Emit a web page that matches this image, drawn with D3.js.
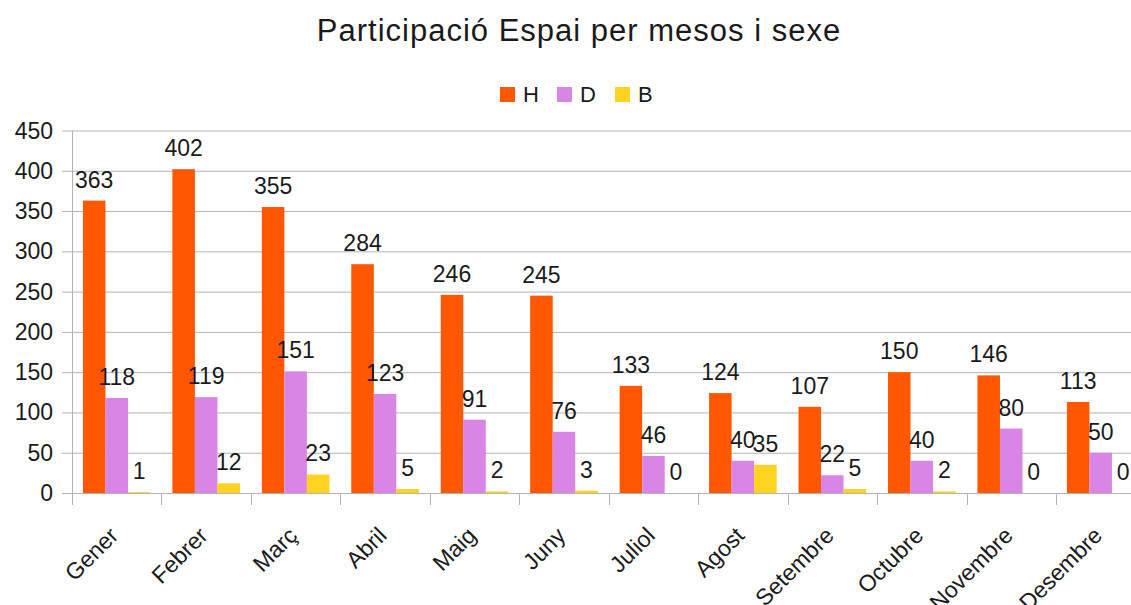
<!DOCTYPE html>
<html lang="ca">
<head>
<meta charset="UTF-8">
<title>Participació Espai per mesos i sexe</title>
<script src="https://d3js.org/d3.v7.min.js"></script>
<style>
    body { margin: 0; background: #fff; font-family: "Liberation Sans", Arial, sans-serif; }
    text { fill: #1a1a1a; }
    .grid line { stroke: #b3b3b3; }
</style>
</head>
<body>
<div id="chart"></div>
<script>
    // dades
    var months = ["Gener", "Febrer", "Març", "Abril", "Maig", "Juny", "Juliol", "Agost", "Setembre", "Octubre", "Novembre", "Desembre"];
    var seriesNames = ["H", "D", "B"];
    var valuesH = [363, 402, 355, 284, 246, 245, 133, 124, 107, 150, 146, 113];
    var valuesD = [118, 119, 151, 123, 91, 76, 46, 40, 22, 40, 80, 50];
    var valuesB = [1, 12, 23, 5, 2, 3, 0, 35, 5, 2, 0, 0];
    var yTicks = [0, 50, 100, 150, 200, 250, 300, 350, 400, 450];
    var colors = ["#ff5800", "#d985e6", "#ffd320"];

    var width = 1131, height = 605;
    var series = [valuesH, valuesD, valuesB];

    var svg = d3.select("#chart").append("svg")
        .attr("width", width)
        .attr("height", height);

    var x = d3.scaleBand().domain(months).range([72, 72 + 12 * 89.45]);
    var xs = d3.scaleBand().domain(seriesNames).range([0, x.bandwidth()]).paddingInner(0).paddingOuter(0.485);
    var y = d3.scaleLinear().domain([0, 450]).range([493, 130.5]);

    // títol
    svg.append("text")
        .attr("x", 579).attr("y", 41)
        .attr("text-anchor", "middle")
        .style("font-size", "31px")
        .style("letter-spacing", "1px")
        .text("Participació Espai per mesos i sexe");

    // llegenda
    var legendX = [500, 557, 615];
    seriesNames.forEach(function(s, i) {
        svg.append("rect")
            .attr("x", legendX[i]).attr("y", 87)
            .attr("width", 15).attr("height", 15)
            .attr("fill", colors[i]);
        svg.append("text")
            .attr("x", legendX[i] + 23).attr("y", 102)
            .style("font-size", "22px")
            .text(s);
    });

    // graella
    svg.append("g").attr("class", "grid")
        .selectAll("line").data(yTicks).enter().append("line")
        .attr("x1", 62).attr("x2", width)
        .attr("y1", function(d) { return y(d) + 0.5; })
        .attr("y2", function(d) { return y(d) + 0.5; });

    // marques eix x
    var bounds = months.map(function(m) { return x(m); }).concat([x.range()[1]]);
    svg.append("g").selectAll("line").data(bounds).enter().append("line")
        .attr("x1", function(d, i) { return Math.round(d) + 0.5; })
        .attr("x2", function(d, i) { return Math.round(d) + 0.5; })
        .attr("y1", function(d, i) { return i === 0 ? y(450) : y(0); })
        .attr("y2", 505)
        .attr("stroke", "#b3b3b3");

    // etiquetes eix y
    svg.append("g").selectAll("text").data(yTicks).enter().append("text")
        .attr("x", 53)
        .attr("y", function(d) { return y(d) + 8; })
        .attr("text-anchor", "end")
        .style("font-size", "23px")
        .text(function(d) { return d; });

    // barres
    series.forEach(function(vals, si) {
        var g = svg.append("g");
        g.selectAll("rect").data(vals).enter().append("rect")
            .attr("x", function(d, i) { return x(months[i]) + xs(seriesNames[si]); })
            .attr("y", function(d) { return y(d); })
            .attr("width", xs.bandwidth())
            .attr("height", function(d) { return y(0) - y(d); })
            .attr("fill", colors[si]);
        g.selectAll("text").data(vals).enter().append("text")
            .attr("x", function(d, i) { return x(months[i]) + xs(seriesNames[si]) + xs.bandwidth() / 2; })
            .attr("y", function(d) { return y(d) - 13; })
            .attr("text-anchor", "middle")
            .style("font-size", "23px")
            .text(function(d) { return d; });
    });

    // etiquetes eix x
    svg.append("g").selectAll("text").data(months).enter().append("text")
        .attr("transform", function(d) {
            return "translate(" + (x(d) + x.bandwidth() / 2 + 3) + ",537) rotate(-45)";
        })
        .attr("text-anchor", "end")
        .style("font-size", "23px")
        .text(function(d) { return d; });
</script>
</body>
</html>
